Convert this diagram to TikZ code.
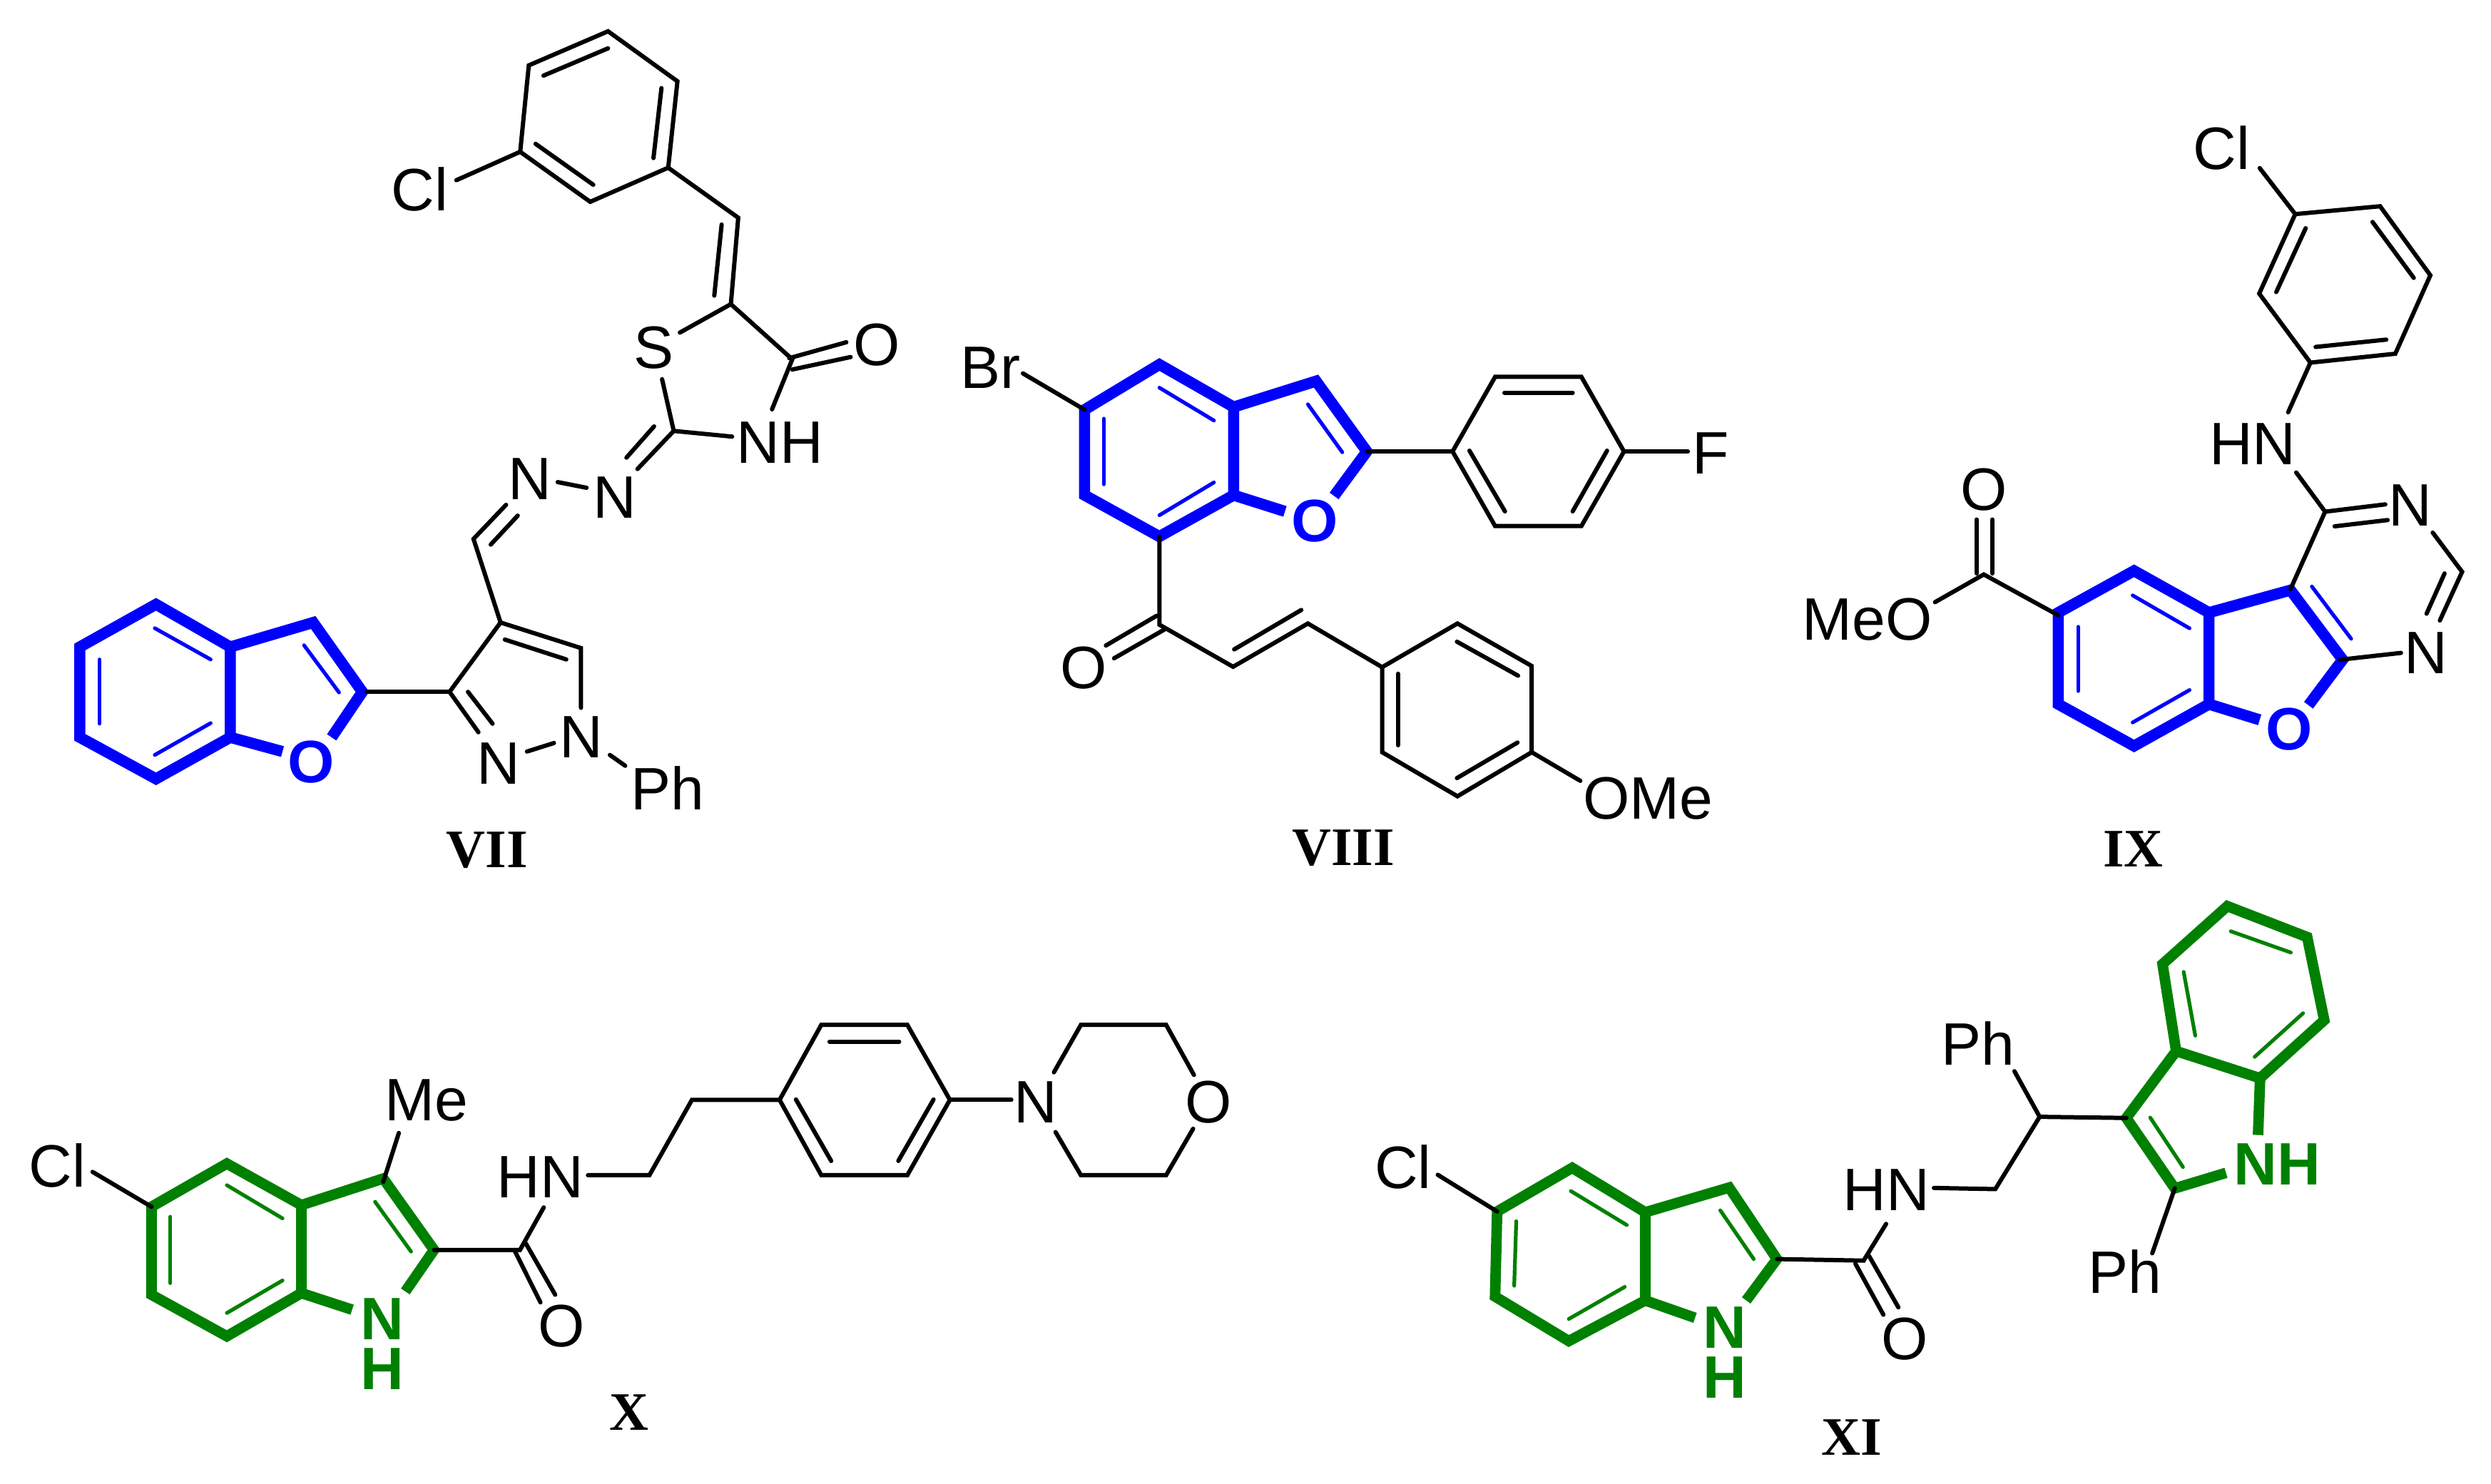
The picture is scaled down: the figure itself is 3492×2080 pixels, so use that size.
\documentclass[tikz,border=0pt]{standalone}
\usepackage{fontspec}
\setmainfont{Liberation Sans}
\newfontfamily\labserif{Liberation Serif}
\definecolor{ringblue}{RGB}{0,0,255}
\definecolor{ringgreen}{RGB}{0,128,0}
\tikzset{
  bk/.style={draw=black,line width=1.5pt,line cap=round,line join=miter},
  hvb/.style={draw=ringblue,line width=3.9pt,line cap=butt,line join=miter},
  hvg/.style={draw=ringgreen,line width=3.7pt,line cap=butt,line join=miter},
  inb/.style={draw=ringblue,line width=1.3pt,line cap=round},
  ing/.style={draw=ringgreen,line width=1.3pt,line cap=round},
  atm/.style={inner sep=0pt,font=\fontsize{21}{25}\selectfont},
  atb/.style={inner sep=0pt,text=ringblue,font=\fontsize{21}{25}\selectfont\bfseries},
  atg/.style={inner sep=0pt,text=ringgreen,align=center,font=\fontsize{21}{17.6}\selectfont\bfseries},
  cmpd/.style={inner sep=0pt,font=\fontsize{19}{23}\selectfont\labserif\bfseries},
}
\begin{document}
\begin{tikzpicture}[x=0.25pt,y=-0.25pt]
\useasboundingbox (0,0) rectangle (3492,2080);
\fill[white] (0,0) rectangle (3492,2080);

% ---------- VII ----------
\begin{scope}[x=0.21524pt,y=-0.19930pt]
\foreach \n/\x/\y in {a1/990/55,a2/1103/143,a3/1088/295,a4/961/355,a5/847/267,a6/861/115,
  av1/1202/383,av2/1190/535,as/1107/585,ak/1290/632,ank/1257/720,anh/1192/768,ac2/1097/758,
  asb/1078/667,acl/743/317,an3/1038/825,ann1/955/858,ann2/908/848,an4/824/888,ach/771/948,
  ac4/815/1095,ac5/946/1140,an1e/946/1245,an1l/902/1307,an2r/858/1322,an2u/779/1288,ac3/732/1217,
  aphs/993/1328,aphe/1018/1347,
  bb1/254/1063,bb2/375/1138,bb3/375/1297,bb4/254/1370,bb5/130/1297,bb6/130/1138,bb7/510/1095,bb8/590/1217,
  bb9/540/1297,bb10/460/1322,bb11/597/1217}
  \coordinate (\n) at (\x,\y);
\draw[hvb] (bb1)--(bb2)--(bb3)--(bb4)--(bb5)--(bb6)--cycle;
\draw[hvb] (bb2)--(bb7)--(bb8)--(bb9);
\draw[hvb] (bb3)--(bb10);
\draw[inb] (252,1105)--(343,1160);
\draw[inb] (162,1160)--(162,1273);
\draw[inb] (252,1328)--(343,1272);
\draw[inb] (495,1135)--(552,1218);
\draw[bk] (a1)--(a2)--(a3)--(a4)--(a5)--(a6)--cycle;
\draw[bk] (885,133)--(990,85);
\draw[bk] (1077,155)--(1064,278);
\draw[bk] (966,325)--(872,253);
\draw[bk] (a5)--(acl);
\draw[bk] (a3)--(av1)--(av2);
\draw[bk] (1175,395)--(1163,520);
\draw[bk] (av2)--(as);
\draw[bk] (av2)--(ak)--(ank);
\draw[bk] (1285,630)--(1378,602);
\draw[bk] (1290,650)--(1385,628);
\draw[bk] (anh)--(ac2)--(asb);
\draw[bk] (ac2)--(an3);
\draw[bk] (1065,750)--(1020,805);
\draw[bk] (ann1)--(ann2);
\draw[bk] (an4)--(ach)--(ac4)--(ac5)--(an1e);
\draw[bk] (843,907)--(799,958);
\draw[bk] (822,1125)--(922,1160);
\draw[bk] (an1l)--(an2r);
\draw[bk] (an2u)--(ac3)--(ac4);
\draw[bk] (802,1273)--(762,1217);
\draw[bk] (aphs)--(aphe);
\draw[bk] (ac3)--(bb11);
\node[atm] (acll) at (683,333) {Cl};
\node[atm] (asl) at (1065,612) {S};
\node[atm] (aol) at (1428,607) {O};
\node[atm] (anhl) at (1270,778) {NH};
\node[atm] (an3l) at (1001,875) {N};
\node[atm] (an4l) at (863,843) {N};
\node[atm] (an1t) at (946,1297) {N};
\node[atm] (an2t) at (812,1343) {N};
\node[atm] (aph) at (1087,1386) {Ph};
\node[atb] (aox) at (507,1340) {O};
\node[cmpd] (lab7) at (793,1495) {VII};
\end{scope}

% ---------- VIII ----------
\begin{scope}[shift={(1300,400)},x=0.19133pt,y=-0.13552pt]
\foreach \n/\x/\y in {c1/288/322,c2/425/205,c3/561/315,c4/561/543,c5/425/650,c6/288/543,c7/712/248,c8/805/430,c9/745/545,c10/655/585,
  cbr/175/228,d1/962/430,d2/1040/237,d3/1198/237,d4/1276/430,d5/1198/623,d6/1040/623,df/1393/430,
  ck/425/878,cv1/560/987,cv2/697/875,e1/833/988,e2/971/875,e3/1107/985,e4/1107/1208,e5/971/1322,e6/833/1208,eo/1196/1282}
  \coordinate (\n) at (\x,\y);
\draw[hvb] (c1)--(c2)--(c3)--(c4)--(c5)--(c6)--cycle;
\draw[hvb] (c3)--(c7)--(c8)--(c9);
\draw[hvb] (c4)--(c10);
\draw[inb] (425,265)--(525,350);
\draw[inb] (323,345)--(323,515);
\draw[inb] (425,595)--(525,510);
\draw[inb] (697,308)--(760,432);
\draw[bk] (cbr)--(c1);
\draw[bk] (c8)--(d1);
\draw[bk] (d1)--(d2)--(d3)--(d4)--(d5)--(d6)--cycle;
\draw[bk] (1057,278)--(1182,278);
\draw[bk] (993,428)--(1058,585);
\draw[bk] (1245,428)--(1182,585);
\draw[bk] (d4)--(df);
\draw[bk] (c5)--(ck)--(cv1)--(cv2)--(e1);
\draw[bk] (420,855)--(327,932);
\draw[bk] (435,890)--(342,965);
\draw[bk] (562,942)--(685,840);
\draw[bk] (e1)--(e2)--(e3)--(e4)--(e5)--(e6)--cycle;
\draw[bk] (970,922)--(1082,1010);
\draw[bk] (1081,1183)--(970,1275);
\draw[bk] (862,1005)--(862,1190);
\draw[bk] (e4)--(eo);
\node[atm] (cbrl) at (115,213) {Br};
\node[atb] (cox) at (710,610) {O};
\node[atm] (dfl) at (1435,435) {F};
\node[atm] (col) at (286,990) {O};
\node[atm] (come) at (1320,1327) {OMe};
\node[cmpd] (lab8) at (762,1455) {VIII};
\end{scope}

% ---------- IX ----------
\begin{scope}[shift={(2450,100)},x=0.16614pt,y=-0.18335pt]
\foreach \n/\x/\y in {f1/1155/273,f2/1334/258,f3/1440/390,f4/1366/540,f5/1187/557,f6/1079/425,fcl/1080/185,
  fhn/1140/652,fh2/1157/767,fc4/1218/842,fn1s/1445/882,fch/1507/957,fn2/1460/1050,fn3/1378/1112,fc8/1250/1125,fc5/1145/990,
  g1/815/955,g2/973/1035,g3/973/1210,g4/815/1290,g5/655/1210,g6/655/1035,g7/1145/992,g8/1255/1125,g9/1183/1212,g10/1080/1240,
  gs/655/1040,gk/498/962,gm/395/1015}
  \coordinate (\n) at (\x,\y);
\draw[hvb] (g1)--(g2)--(g3)--(g4)--(g5)--(g6)--cycle;
\draw[hvb] (g2)--(g7)--(g8)--(g9);
\draw[hvb] (g3)--(g10);
\draw[inb] (812,1002)--(932,1065);
\draw[inb] (697,1062)--(697,1185);
\draw[inb] (812,1245)--(932,1183);
\draw[inb] (1190,985)--(1273,1085);
\draw[bk] (f1)--(f2)--(f3)--(f4)--(f5)--(f6)--cycle;
\draw[bk] (1177,300)--(1115,422);
\draw[bk] (1318,288)--(1405,395);
\draw[bk] (1347,513)--(1198,527);
\draw[bk] (fcl)--(f1);
\draw[bk] (f5)--(fhn);
\draw[bk] (fh2)--(fc4)--(fc5);
\draw[bk] (1218,842)--(1345,828);
\draw[bk] (1238,870)--(1350,858);
\draw[bk] (fn1s)--(fch)--(fn2);
\draw[bk] (1470,960)--(1432,1037);
\draw[bk] (fn3)--(fc8);
\draw[bk] (gs)--(gk)--(gm);
\draw[bk] (483,960)--(483,857);
\draw[bk] (516,960)--(516,857);
\node[atm] (fcll) at (1000,147) {Cl};
\node[atm] (fhnl) at (1065,713) {HN};
\node[atm] (fn1l) at (1397,830) {N};
\node[atm] (fn2l) at (1430,1112) {N};
\node[atb] (gox) at (1143,1258) {O};
\node[atm] (gol) at (498,800) {O};
\node[atm] (gmeo) at (252,1048) {MeO};
\node[cmpd] (lab9) at (813,1487) {IX};
\end{scope}

% ---------- X ----------
\begin{scope}[shift={(0,1350)},x=0.28699pt,y=-0.11639pt]
\foreach \n/\x/\y in {h1/277/605,h2/368/730,h3/368/995,h4/277/1125,h5/185/1000,h6/185/735,h7/468/650,h8/530/865,h9/495/990,h10/430/1045,
  hcl/113/630,hme/487/513,hme2/468/660,hk/635/865,hhn/664/737,hn1/718/640,hc1/793/640,hc2/845/413,
  i1/952/413,i2/1003/187,i3/1108/187,i4/1160/413,i5/1108/640,i6/1003/640,in/1235/413,
  j1/1287/330,j2/1320/187,j3/1424/187,j4/1458/338,j5/1457/500,j6/1424/640,j7/1320/640,j8/1289/510}
  \coordinate (\n) at (\x,\y);
\draw[hvg] (h1)--(h2)--(h3)--(h4)--(h5)--(h6)--cycle;
\draw[hvg] (h2)--(h7)--(h8)--(h9);
\draw[hvg] (h3)--(h10);
\draw[ing] (277,670)--(345,770);
\draw[ing] (208,765)--(208,965);
\draw[ing] (277,1055)--(345,957);
\draw[ing] (458,720)--(502,870);
\draw[bk] (hcl)--(h6);
\draw[bk] (hme)--(hme2);
\draw[bk] (h8)--(hk)--(hhn);
\draw[bk] (628,865)--(660,1023);
\draw[bk] (642,845)--(678,1000);
\draw[bk] (hn1)--(hc1)--(hc2)--(i1);
\draw[bk] (i1)--(i2)--(i3)--(i4)--(i5)--(i6)--cycle;
\draw[bk] (1013,238)--(1098,238);
\draw[bk] (972,412)--(1015,597);
\draw[bk] (1140,412)--(1097,597);
\draw[bk] (i4)--(in);
\draw[bk] (j1)--(j2)--(j3)--(j4);
\draw[bk] (j5)--(j6)--(j7)--(j8);
\node[atm] (hcll) at (70,610) {Cl};
\node[atm] (hmel) at (521,415) {Me};
\node[atg] (hnh) at (467,1148) {N\\H};
\node[atm] (hol) at (686,1095) {O};
\node[atm] (hhnl) at (660,645) {HN};
\node[atm] (jnl) at (1265,420) {N};
\node[atm] (jol) at (1476,420) {O};
\node[cmpd] (lab10) at (768,1355) {X};
\end{scope}

% ---------- XI ----------
\begin{scope}[shift={(1850,1230)},x=0.23916pt,y=-0.13552pt]
\foreach \n/\x/\y in {k1/370/752,k2/477/867,k3/477/1095,k4/365/1200,k5/257/1085,k6/260/865,k7/600/803,k8/670/988,k9/625/1095,k10/550/1140,
  kcl/173/770,kc/797/992,khn/830/897,kh2/900/804,kch2/990/807,kch/1055/620,kph/1018/502,
  m1/1182/623,m2/1255/450,m3/1378/520,m4/1375/667,m5/1253/805,m6/1328/765,m7/1235/225,m8/1330/75,m9/1447/155,m10/1472/370,
  mph/1220/973}
  \coordinate (\n) at (\x,\y);
\draw[hvg] (k1)--(k2)--(k3)--(k4)--(k5)--(k6)--cycle;
\draw[hvg] (k2)--(k7)--(k8)--(k9);
\draw[hvg] (k3)--(k10);
\draw[ing] (368,812)--(450,900);
\draw[ing] (288,890)--(285,1057);
\draw[ing] (365,1143)--(447,1060);
\draw[ing] (587,862)--(636,988);
\draw[hvg] (m2)--(m7)--(m8)--(m9)--(m10)--(m3)--cycle;
\draw[hvg] (m4)--(m3);
\draw[hvg] (m6)--(m5)--(m1)--(m2);
\draw[ing] (1217,622)--(1265,750);
\draw[ing] (1266,245)--(1283,410);
\draw[ing] (1335,140)--(1423,195);
\draw[ing] (1441,352)--(1370,465);
\draw[bk] (kcl)--(k6);
\draw[bk] (k8)--(kc)--(khn);
\draw[bk] (785,1000)--(826,1132);
\draw[bk] (805,980)--(848,1113);
\draw[bk] (kh2)--(kch2)--(kch)--(m1);
\draw[bk] (kch)--(kph);
\draw[bk] (m5)--(mph);
\node[atm] (kcll) at (122,750) {Cl};
\node[atg] (knh) at (594,1230) {N\\H};
\node[atm] (kol) at (857,1195) {O};
\node[atm] (khnl) at (830,810) {HN};
\node[atm] (kphl) at (965,430) {Ph};
\node[atm] (mphl) at (1180,1020) {Ph};
\node[atg] (mnh) at (1403,742) {NH};
\node[cmpd] (lab11) at (780,1450) {XI};
\end{scope}
\end{tikzpicture}
\end{document}
